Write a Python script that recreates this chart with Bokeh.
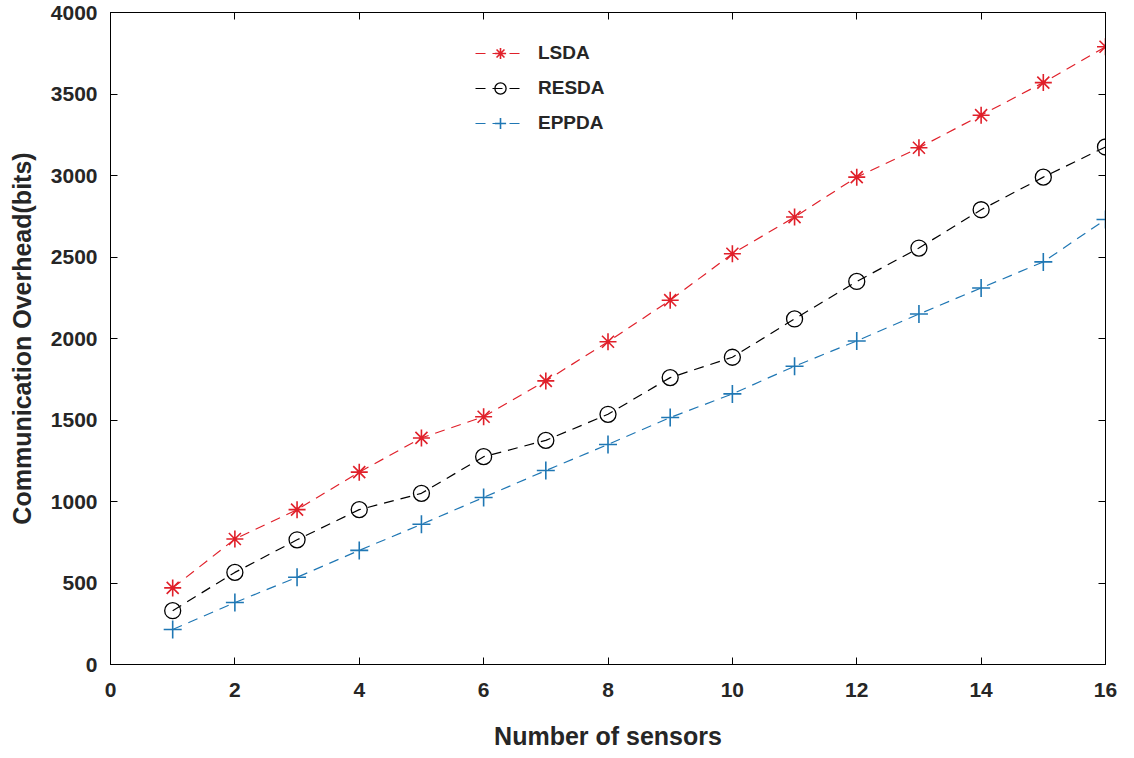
from bokeh.plotting import figure
from bokeh.models import LinearAxis, FixedTicker, Range1d, Legend, LegendItem, CustomJSTickFormatter
from bokeh.embed import file_html
from bokeh.resources import INLINE

sensors = list(range(1, 17))
lsda = [470, 770, 950, 1180, 1390, 1520, 1740, 1980, 2235, 2520, 2745, 2990, 3170, 3370, 3570, 3790]
resda = [330, 565, 765, 950, 1050, 1275, 1375, 1535, 1760, 1885, 2120, 2350, 2555, 2790, 2990, 3175]
eppda = [215, 380, 535, 700, 860, 1025, 1190, 1350, 1515, 1660, 1830, 1985, 2150, 2310, 2470, 2730]
x_ticks = [0, 2, 4, 6, 8, 10, 12, 14, 16]
y_ticks = [0, 500, 1000, 1500, 2000, 2500, 3000, 3500, 4000]

FONT = "Liberation Sans"

p = figure(width=1126, height=752, output_backend="svg", toolbar_location=None,
           x_range=Range1d(0, 16), y_range=Range1d(0, 4000),
           min_border_left=110, min_border_right=21, min_border_top=12, min_border_bottom=80)
p.grid.visible = False
p.outline_line_color = "black"
p.outline_line_width = 1
p.background_fill_color = "white"

def style_axis(ax, ticks, show_labels=True):
    ax.ticker = FixedTicker(ticks=ticks)
    ax.major_tick_in = 7
    ax.major_tick_out = 0
    ax.minor_tick_line_color = None
    ax.axis_line_color = "black"
    ax.major_tick_line_color = "black"
    ax.major_label_text_font = FONT
    ax.major_label_text_font_style = "bold"
    ax.major_label_text_font_size = "21px"
    ax.major_label_text_color = "#262626"
    if not show_labels:
        ax.formatter = CustomJSTickFormatter(code="return ''")
        ax.major_label_standoff = 0

style_axis(p.xaxis[0], x_ticks)
style_axis(p.yaxis[0], y_ticks)
p.xaxis[0].major_label_standoff = 18
p.yaxis[0].major_label_standoff = 13
p.xaxis.axis_label = "Number of sensors"
p.yaxis.axis_label = "Communication Overhead(bits)"
for ax in (p.xaxis[0], p.yaxis[0]):
    ax.axis_label_text_font = FONT
    ax.axis_label_text_font_style = "bold"
    ax.axis_label_text_font_size = "25px"
    ax.axis_label_text_color = "#262626"
p.xaxis[0].axis_label_standoff = 22
p.yaxis[0].axis_label_standoff = 12

top = LinearAxis()
style_axis(top, x_ticks, show_labels=False)
p.add_layout(top, "above")
right = LinearAxis()
style_axis(right, y_ticks, show_labels=False)
p.add_layout(right, "right")

RED = "#E0202A"
BLUE = "#1F77B4"
dash = "10 7"

l1 = p.line(sensors, lsda, line_color=RED, line_width=1.2, line_dash=dash)
s1 = p.scatter(sensors, lsda, marker="asterisk", size=17, line_color=RED, line_width=1.6)
l2 = p.line(sensors, resda, line_color="black", line_width=1.2, line_dash=dash)
s2 = p.scatter(sensors, resda, marker="circle", size=16, line_color="black", fill_color=None, line_width=1.3)
l3 = p.line(sensors, eppda, line_color=BLUE, line_width=1.2, line_dash=dash)
s3 = p.scatter(sensors, eppda, marker="cross", size=18, line_color=BLUE, line_width=1.6)

legend = Legend(items=[
    LegendItem(label="LSDA", renderers=[l1, s1]),
    LegendItem(label="RESDA", renderers=[l2, s2]),
    LegendItem(label="EPPDA", renderers=[l3, s3]),
], location=(360, 522))
legend.border_line_alpha = 0
legend.background_fill_alpha = 0
legend.label_text_font = FONT
legend.label_text_font_style = "bold"
legend.label_text_font_size = "19px"
legend.label_text_color = "#262626"
legend.glyph_width = 50
legend.glyph_height = 28
legend.label_height = 28
legend.spacing = 7
legend.padding = 5
legend.margin = 0
legend.label_standoff = 13
p.add_layout(legend, "center")

open("out.html", "w").write(file_html(p, INLINE))
